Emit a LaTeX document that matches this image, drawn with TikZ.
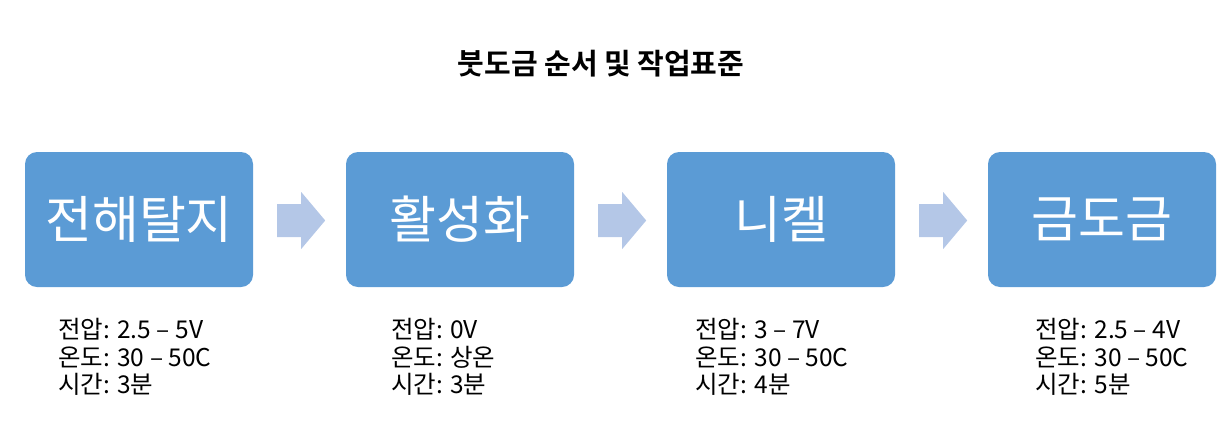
\documentclass[tikz,border=0pt]{standalone}
\usepackage{fontspec}
\setmainfont{Noto Sans CJK KR}[BoldFont={* Bold}]
\definecolor{boxblue}{HTML}{5B9BD5}
\definecolor{arrowblue}{HTML}{B4C7E7}
\tikzset{
  stepbox/.style={draw=none, fill=boxblue, rounded corners=12pt, minimum width=228pt, minimum height=135pt, inner sep=0pt, text=white, font=\fontsize{51}{56}\selectfont},
  infotext/.style={anchor=north west, inner sep=0pt, align=left, font=\fontsize{24.5}{27.5}\selectfont},
  flowarrow/.style={fill=arrowblue, draw=none},
}
\begin{document}
\begin{tikzpicture}[x=1pt,y=-1pt]
\path[use as bounding box] (0,0) rectangle (1220,437);
\node[font=\bfseries\fontsize{29}{32}\selectfont] (title) at (601,64) {붓도금 순서 및 작업표준};
\node[stepbox] (b1) at (139,219.5) {전해탈지};
\node[stepbox] (b2) at (460,219.5) {활성화};
\node[stepbox] (b3) at (781,219.5) {니켈};
\node[stepbox] (b4) at (1102,219.5) {금도금};
\foreach \s in {1,2,3}{
  \coordinate (a\s) at ([xshift=24pt,yshift=-1pt]b\s.east);
  \fill[flowarrow] (a\s) ++(0,-16.5) -- ++(24,0) -- ++(0,-12) -- ++(24,28.5) -- ++(-24,28.5) -- ++(0,-12) -- ++(-24,0) -- cycle;
}
\node[infotext] (t1) at (58,318.5) {전압: 2.5 – 5V\\온도: 30 – 50C\\시간: 3분};
\node[infotext] (t2) at (391,318.5) {전압: 0V\\온도: 상온\\시간: 3분};
\node[infotext] (t3) at (695,318.5) {전압: 3 – 7V\\온도: 30 – 50C\\시간: 4분};
\node[infotext] (t4) at (1035,318.5) {전압: 2.5 – 4V\\온도: 30 – 50C\\시간: 5분};
\end{tikzpicture}
\end{document}
